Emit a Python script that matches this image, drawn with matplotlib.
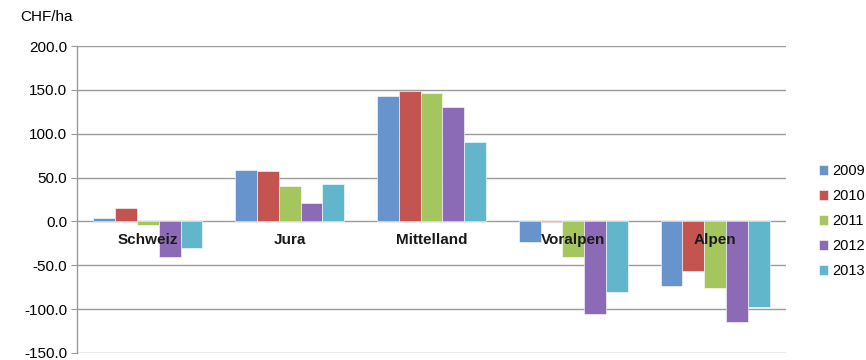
import numpy as np
import matplotlib.pyplot as plt

plt.rcParams['font.family'] = ['Liberation Sans', 'DejaVu Sans']

regions = ['Schweiz', 'Jura', 'Mittelland', 'Voralpen', 'Alpen']
years = ['2009', '2010', '2011', '2012', '2013']
colors = ['#6794cd', '#c4544f', '#a5c65e', '#8c6bb6', '#62b6cb']

v2009 = [4, 59, 143, -23, -74]
v2010 = [15, 58, 149, -1, -57]
v2011 = [-4, 40, 146, -41, -76]
v2012 = [-40, 21, 131, -105, -115]
v2013 = [-30, 43, 91, -80, -97]
series = [v2009, v2010, v2011, v2012, v2013]

fig = plt.figure(figsize=(8.66, 3.6), dpi=100)
ax = fig.add_axes([77 / 866, 1 - 353 / 360, (786 - 77) / 866, (353 - 46) / 360])

x = np.arange(len(regions))
w = 0.154
for i, (yr, vals, c) in enumerate(zip(years, series, colors)):
    ax.bar(x + (i - 2) * w, vals, w, color=c, label=yr, zorder=3,
           edgecolor='white', linewidth=0.4)

ax.set_xlim(-0.5, len(regions) - 0.5)
ax.set_ylim(-150, 200)
ax.set_yticks(np.arange(-150, 201, 50))
ax.set_yticklabels([f'{v:.1f}' for v in np.arange(-150, 201, 50)], fontsize=11)
ax.set_xticks([])
ax.yaxis.grid(True, color='#9a9a9a', linewidth=1.0, zorder=0)
for s in ['top', 'right', 'bottom']:
    ax.spines[s].set_visible(False)
ax.spines['left'].set_color('#9a9a9a')
ax.spines['left'].set_linewidth(1.0)
ax.tick_params(axis='y', color='#9a9a9a', length=4, pad=3)

for xi, name in zip(x, regions):
    ax.annotate(name, (xi, 0), xytext=(0, -8), textcoords='offset points',
                ha='center', va='top', fontsize=11, fontweight='bold',
                color='#1a1a1a', zorder=5)

fig.text(20 / 866, 1 - 17 / 360, 'CHF/ha', fontsize=11, va='center')

ax.legend(loc='center left', bbox_to_anchor=(1.028, 0.43), frameon=False,
          fontsize=10.5, handlelength=0.65, handleheight=0.65, handletextpad=0.25,
          labelspacing=0.75)

fig.savefig('out.png', dpi=100)
